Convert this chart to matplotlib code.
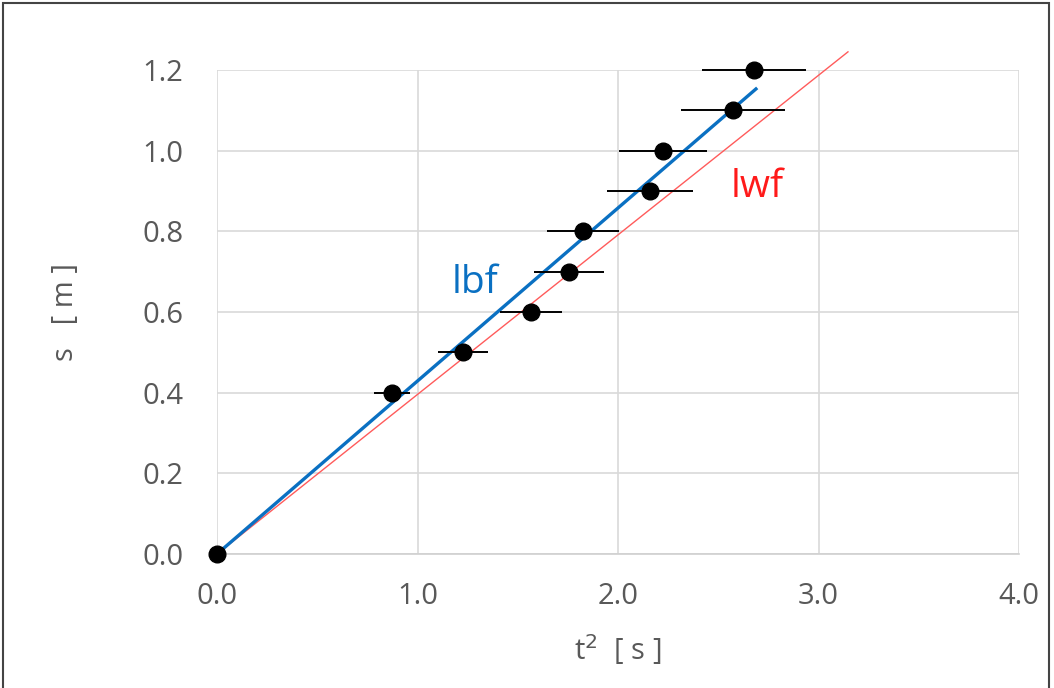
import numpy as np
import matplotlib.pyplot as plt
from matplotlib.patches import Rectangle

plt.rcParams['font.family'] = ['Open Sans', 'DejaVu Sans']

# measured points
t2 = [0.0, 0.873, 1.227, 1.566, 1.756, 1.825, 2.16, 2.224, 2.574, 2.678]
s = [0.0, 0.4, 0.5, 0.6, 0.7, 0.8, 0.9, 1.0, 1.1, 1.2]
t2_err = [0.0, 0.09, 0.125, 0.157, 0.175, 0.18, 0.215, 0.22, 0.26, 0.26]

# best fit / worst fit lines
lbf_x = [0.0, 2.688]
lbf_y = [0.0, 1.153]
lwf_x = [0.0, 3.147]
lwf_y = [0.0, 1.245]

xticks = [0.0, 1.0, 2.0, 3.0, 4.0]
yticks = [0.0, 0.2, 0.4, 0.6, 0.8, 1.0, 1.2]

fig = plt.figure(figsize=(10.54, 6.88), dpi=100)
ax = fig.add_axes([217 / 1054, 1 - 554 / 688, 802 / 1054, 484 / 688])

ax.plot(lwf_x, lwf_y, color='#ff5b5b', lw=1.0, clip_on=False, zorder=3)
ax.plot(lbf_x, lbf_y, color='#0a70c2', lw=2.4, clip_on=False, zorder=4)
ax.errorbar(t2, s, xerr=t2_err, fmt='o', color='black', ms=12,
            elinewidth=1.4, capsize=0, clip_on=False, zorder=5)

ax.text(1.172, 0.647, 'lbf', color='#0a70c2', fontsize=28)
ax.text(2.564, 0.885, 'lwf', color='#ff1a1a', fontsize=28)

ax.set_xlim(0, 4)
ax.set_ylim(0, 1.2)
ax.set_xticks(xticks)
ax.set_yticks(yticks)
ax.set_xticklabels([f'{v:.1f}' for v in xticks])
ax.set_yticklabels([f'{v:.1f}' for v in yticks])
ax.tick_params(axis='y', length=0, labelsize=21, colors='#595959', pad=24)
ax.tick_params(axis='x', length=0, labelsize=21, colors='#595959', pad=20)
ax.grid(color='#d9d9d9', lw=1.2)
ax.set_axisbelow(True)
for sp in ['top', 'right', 'left']:
    ax.spines[sp].set_visible(False)
ax.spines['bottom'].set_color('#d0d0d0')
ax.spines['bottom'].set_linewidth(1.2)

ax.set_xlabel('t$^2$  [ s ]', fontsize=21, color='#595959', labelpad=15)
ax.set_ylabel('s   [ m ]', fontsize=21, color='#595959', labelpad=45)

# figure frame
fig.patches.append(Rectangle((3 / 1054, -0.01), 1046 / 1054, 1 - 3 / 688 + 0.01,
                             transform=fig.transFigure, fill=False,
                             edgecolor='#444444', lw=1.5))

fig.savefig('out.png', dpi=100)
